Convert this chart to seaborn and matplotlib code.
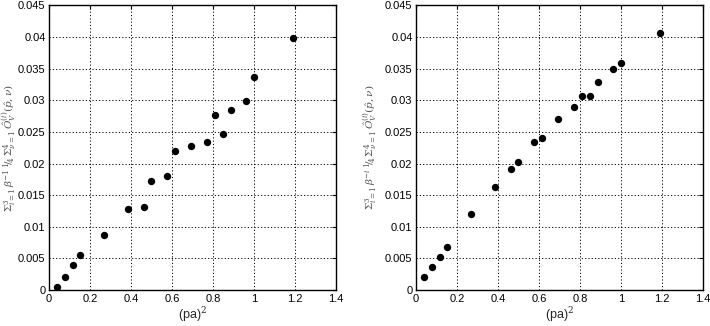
import numpy as np
import pandas as pd
import matplotlib
matplotlib.use("Agg")
import matplotlib.pyplot as plt
import seaborn as sns

# (pa)^2 values, same for both panels
pa_sq = [0.038, 0.076, 0.115, 0.153, 0.268, 0.386, 0.463, 0.499, 0.576,
         0.616, 0.692, 0.769, 0.809, 0.847, 0.886, 0.963, 1.0, 1.193]

# left panel
obs_left = [0.0005, 0.0021, 0.0039, 0.0056, 0.0087, 0.0128, 0.0132, 0.0172, 0.0180,
            0.0219, 0.0228, 0.0234, 0.0276, 0.0246, 0.0285, 0.0298, 0.0336, 0.0398]
# right panel
obs_right = [0.0020, 0.0036, 0.0053, 0.0068, 0.0120, 0.0163, 0.0192, 0.0203, 0.0234,
             0.0241, 0.0271, 0.0289, 0.0306, 0.0306, 0.0328, 0.0350, 0.0358, 0.0406]

x_ticks = [0, 0.2, 0.4, 0.6, 0.8, 1.0, 1.2, 1.4]
x_ticklabels = ["0", "0.2", "0.4", "0.6", "0.8", "1", "1.2", "1.4"]
y_ticks = [0, 0.005, 0.01, 0.015, 0.02, 0.025, 0.03, 0.035, 0.04, 0.045]
y_ticklabels = ["0", "0.005", "0.01", "0.015", "0.02", "0.025", "0.03", "0.035", "0.04", "0.045"]

ylabel_left = r"$\Sigma_{i=1}^{3}\,\beta^{-1}\,{}^1\!/\!{}_4\,\Sigma_{\nu=1}^{4}\,\hat{O}_V^{(i)}(\hat{p},\nu)$"
ylabel_right = r"$\Sigma_{i=1}^{3}\,\beta^{-i}\,{}^1\!/\!{}_4\,\Sigma_{\nu=1}^{4}\,\hat{O}_V^{(i)}(\hat{p},\nu)$"

sns.set_style("white")
plt.rcParams['font.family'] = ['Liberation Sans', 'DejaVu Sans']
plt.rcParams['mathtext.fontset'] = 'dejavuserif'

fig = plt.figure(figsize=(7.1, 3.26), dpi=100)
ax1 = fig.add_axes([0.069, 0.110, 0.404, 0.874])
ax2 = fig.add_axes([0.586, 0.110, 0.404, 0.874])

for ax, obs, ylab, lx in [(ax1, obs_left, ylabel_left, -0.108),
                          (ax2, obs_right, ylabel_right, -0.128)]:
    df = pd.DataFrame({"x": pa_sq, "y": obs})
    sns.scatterplot(data=df, x="x", y="y", ax=ax, color="black", s=28,
                    edgecolor="black", linewidth=0, zorder=3)
    ax.set_xlim(0, 1.4)
    ax.set_ylim(0, 0.045)
    ax.set_xticks(x_ticks)
    ax.set_xticklabels(x_ticklabels, fontsize=8)
    ax.set_yticks(y_ticks)
    ax.set_yticklabels(y_ticklabels, fontsize=8)
    ax.grid(True, color="black", linestyle=(0, (1.2, 2.2)), linewidth=0.7)
    ax.tick_params(direction="in", length=3, width=0.8, top=True, right=True,
                   pad=2.5, colors="black")
    for sp in ax.spines.values():
        sp.set_color("black")
        sp.set_linewidth(1.0)
    ax.set_xlabel("(pa)$^2$", fontsize=9, labelpad=1)
    ax.set_ylabel(ylab, fontsize=7.5, color="#555555")
    ax.yaxis.set_label_coords(lx, 0.5)

fig.savefig("out.png", dpi=100)
